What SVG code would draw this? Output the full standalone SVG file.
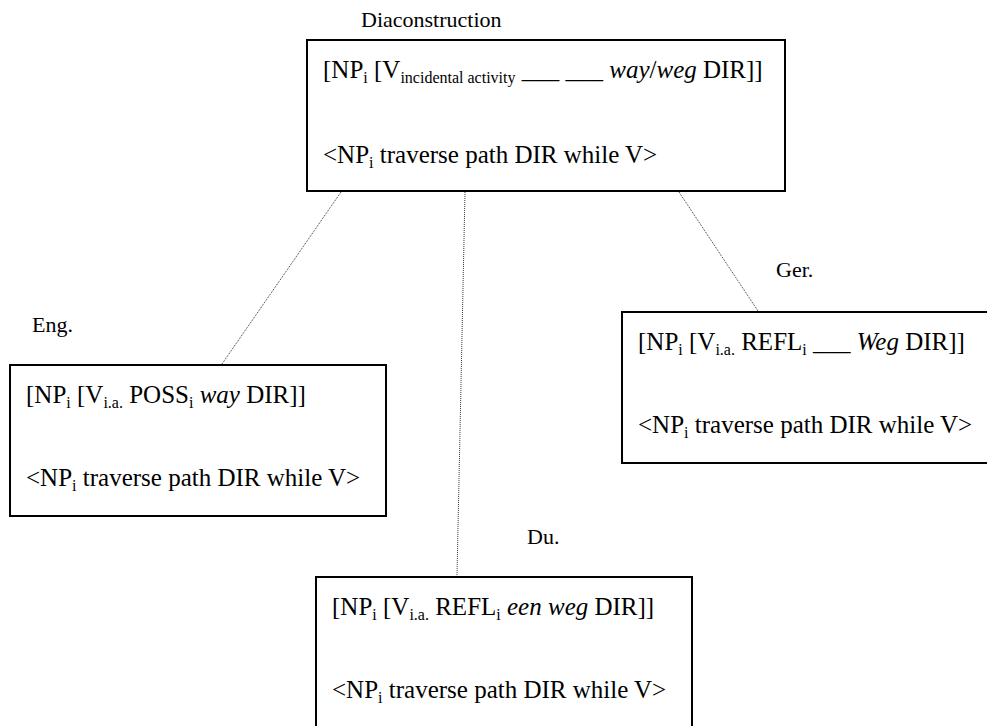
<svg xmlns="http://www.w3.org/2000/svg" width="987" height="726" viewBox="0 0 987 726" font-family="'Liberation Serif', 'Times New Roman', serif">
  <style>
    text { font-family: 'Liberation Serif', 'Times New Roman', serif; font-size: 25px; fill: #000; }
    .label { font-size: 22px; }
    .box { fill: #fff; stroke: #000; stroke-width: 2; }
    .link { stroke: #333; stroke-width: 1; stroke-dasharray: 1 1; fill: none; }
    .sub { font-size: 16px; }
    .it { font-style: italic; }
  </style>
  <rect width="987" height="726" fill="#fff"/>

  <!-- dotted links from the diaconstruction to each language -->
  <g id="connectors">
    <line class="link" x1="341" y1="192" x2="222" y2="364"/>
    <line class="link" x1="465" y1="192" x2="457" y2="576"/>
    <line class="link" x1="679" y1="192" x2="758" y2="311"/>
  </g>

  <g id="diaconstruction">
    <text class="label" x="361" y="27">Diaconstruction</text>
    <rect class="box" x="307" y="40" width="478" height="151"/>
    <text x="323" y="78">[NP<tspan class="sub" dy="5">i</tspan><tspan dy="-5"> [V</tspan><tspan class="sub" dy="5">incidental activity</tspan><tspan dy="-5"> ___ ___ </tspan><tspan class="it">way</tspan>/<tspan class="it">weg</tspan> DIR]]</text>
    <text x="323" y="163">&lt;NP<tspan class="sub" dy="5">i</tspan><tspan dy="-5"> traverse path DIR while V&gt;</tspan></text>
  </g>

  <g id="english">
    <text class="label" x="32" y="332">Eng.</text>
    <rect class="box" x="10" y="365" width="376" height="151"/>
    <text x="26" y="403">[NP<tspan class="sub" dy="5">i</tspan><tspan dy="-5"> [V</tspan><tspan class="sub" dy="5">i.a.</tspan><tspan dy="-5"> POSS</tspan><tspan class="sub" dy="5">i</tspan><tspan dy="-5"> </tspan><tspan class="it">way</tspan> DIR]]</text>
    <text x="26" y="486">&lt;NP<tspan class="sub" dy="5">i</tspan><tspan dy="-5"> traverse path DIR while V&gt;</tspan></text>
  </g>

  <g id="german">
    <text class="label" x="776" y="277">Ger.</text>
    <rect class="box" x="622" y="312" width="376" height="151"/>
    <text x="638" y="350">[NP<tspan class="sub" dy="5">i</tspan><tspan dy="-5"> [V</tspan><tspan class="sub" dy="5">i.a.</tspan><tspan dy="-5"> REFL</tspan><tspan class="sub" dy="5">i</tspan><tspan dy="-5"> ___ </tspan><tspan class="it">Weg</tspan> DIR]]</text>
    <text x="638" y="433">&lt;NP<tspan class="sub" dy="5">i</tspan><tspan dy="-5"> traverse path DIR while V&gt;</tspan></text>
  </g>

  <g id="dutch">
    <text class="label" x="527" y="544">Du.</text>
    <rect class="box" x="316" y="577" width="376" height="151"/>
    <text x="332" y="615">[NP<tspan class="sub" dy="5">i</tspan><tspan dy="-5"> [V</tspan><tspan class="sub" dy="5">i.a.</tspan><tspan dy="-5"> REFL</tspan><tspan class="sub" dy="5">i</tspan><tspan dy="-5"> </tspan><tspan class="it">een weg</tspan> DIR]]</text>
    <text x="332" y="698">&lt;NP<tspan class="sub" dy="5">i</tspan><tspan dy="-5"> traverse path DIR while V&gt;</tspan></text>
  </g>
</svg>
